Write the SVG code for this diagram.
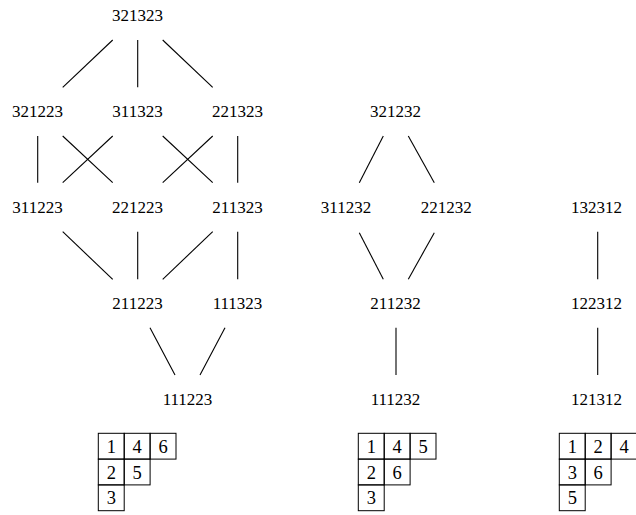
<svg xmlns="http://www.w3.org/2000/svg" width="636" height="515" viewBox="0 0 636 515">
<style>
text{font-family:'Liberation Serif','Times New Roman',serif;font-size:17px;fill:#000;text-anchor:middle}
.t text{font-size:18.5px}
.e line{stroke:#000;stroke-width:1.1}
.t rect{fill:none;stroke:#000;stroke-width:1}
</style>
<rect width="636" height="515" fill="#fff"/>
<g class="e" id="connectors">
<line x1="112.7" y1="40" x2="62.7" y2="87.3"/>
<line x1="137.7" y1="40" x2="137.7" y2="87.3"/>
<line x1="162.7" y1="40" x2="212.7" y2="87.3"/>
<line x1="37.7" y1="136" x2="37.7" y2="182.7"/>
<line x1="62.7" y1="136" x2="112.7" y2="182.7"/>
<line x1="112.7" y1="136" x2="62.7" y2="182.7"/>
<line x1="162.7" y1="136" x2="212.7" y2="182.7"/>
<line x1="212.7" y1="136" x2="162.7" y2="182.7"/>
<line x1="237.7" y1="136" x2="237.7" y2="182.7"/>
<line x1="62.7" y1="231.7" x2="112.7" y2="279.3"/>
<line x1="137.7" y1="231.7" x2="137.7" y2="279.3"/>
<line x1="212.7" y1="231.7" x2="162.7" y2="279.3"/>
<line x1="237.7" y1="231.7" x2="237.7" y2="279.3"/>
<line x1="150" y1="327.7" x2="175" y2="375"/>
<line x1="225" y1="327.7" x2="200" y2="375"/>
<line x1="383.3" y1="136" x2="359.3" y2="182.7"/>
<line x1="408.3" y1="136" x2="434.3" y2="182.7"/>
<line x1="359.3" y1="232.7" x2="383.3" y2="279.3"/>
<line x1="434.3" y1="232.7" x2="408.3" y2="279.3"/>
<line x1="396" y1="327.7" x2="396" y2="375"/>
<line x1="597.7" y1="231.7" x2="597.7" y2="279.3"/>
<line x1="597.7" y1="327.7" x2="597.7" y2="375"/>
</g>
<g id="n321323"><text x="137.5" y="20.7">321323</text></g>
<g id="n321223"><text x="37.5" y="116.7">321223</text></g>
<g id="n311323"><text x="137.5" y="116.7">311323</text></g>
<g id="n221323"><text x="237.5" y="116.7">221323</text></g>
<g id="n311223"><text x="37.5" y="212.7">311223</text></g>
<g id="n221223"><text x="137.5" y="212.7">221223</text></g>
<g id="n211323"><text x="237.5" y="212.7">211323</text></g>
<g id="n211223"><text x="137.5" y="308.5">211223</text></g>
<g id="n111323"><text x="237.5" y="308.5">111323</text></g>
<g id="n111223"><text x="187.5" y="404.5">111223</text></g>
<g id="n321232"><text x="395.5" y="116.7">321232</text></g>
<g id="n311232"><text x="346" y="212.7">311232</text></g>
<g id="n221232"><text x="446.3" y="212.7">221232</text></g>
<g id="n211232"><text x="395.5" y="308.5">211232</text></g>
<g id="n111232"><text x="395.5" y="404.5">111232</text></g>
<g id="n132312"><text x="596.5" y="212.7">132312</text></g>
<g id="n122312"><text x="596.5" y="308.5">122312</text></g>
<g id="n121312"><text x="596.5" y="404.5">121312</text></g>
<g id="tableau1" class="t" transform="translate(98.3,433.3)">
<rect x="0" y="0" width="25.9" height="25.8"/><rect x="25.9" y="0" width="25.9" height="25.8"/><rect x="51.8" y="0" width="25.9" height="25.8"/>
<rect x="0" y="25.8" width="25.9" height="25.8"/><rect x="25.9" y="25.8" width="25.9" height="25.8"/>
<rect x="0" y="51.6" width="25.9" height="25.8"/>
<text x="13" y="20">1</text><text x="38.9" y="20">4</text><text x="64.8" y="20">6</text>
<text x="13" y="45.5">2</text><text x="38.9" y="45.5">5</text>
<text x="13" y="71">3</text>
</g>
<g id="tableau2" class="t" transform="translate(358.3,433.3)">
<rect x="0" y="0" width="25.9" height="25.8"/><rect x="25.9" y="0" width="25.9" height="25.8"/><rect x="51.8" y="0" width="25.9" height="25.8"/>
<rect x="0" y="25.8" width="25.9" height="25.8"/><rect x="25.9" y="25.8" width="25.9" height="25.8"/>
<rect x="0" y="51.6" width="25.9" height="25.8"/>
<text x="13" y="20">1</text><text x="38.9" y="20">4</text><text x="64.8" y="20">5</text>
<text x="13" y="45.5">2</text><text x="38.9" y="45.5">6</text>
<text x="13" y="71">3</text>
</g>
<g id="tableau3" class="t" transform="translate(559.3,433.3)">
<rect x="0" y="0" width="25.9" height="25.8"/><rect x="25.9" y="0" width="25.9" height="25.8"/><rect x="51.8" y="0" width="25.9" height="25.8"/>
<rect x="0" y="25.8" width="25.9" height="25.8"/><rect x="25.9" y="25.8" width="25.9" height="25.8"/>
<rect x="0" y="51.6" width="25.9" height="25.8"/>
<text x="13" y="20">1</text><text x="38.9" y="20">2</text><text x="64.8" y="20">4</text>
<text x="13" y="45.5">3</text><text x="38.9" y="45.5">6</text>
<text x="13" y="71">5</text>
</g>
</svg>
